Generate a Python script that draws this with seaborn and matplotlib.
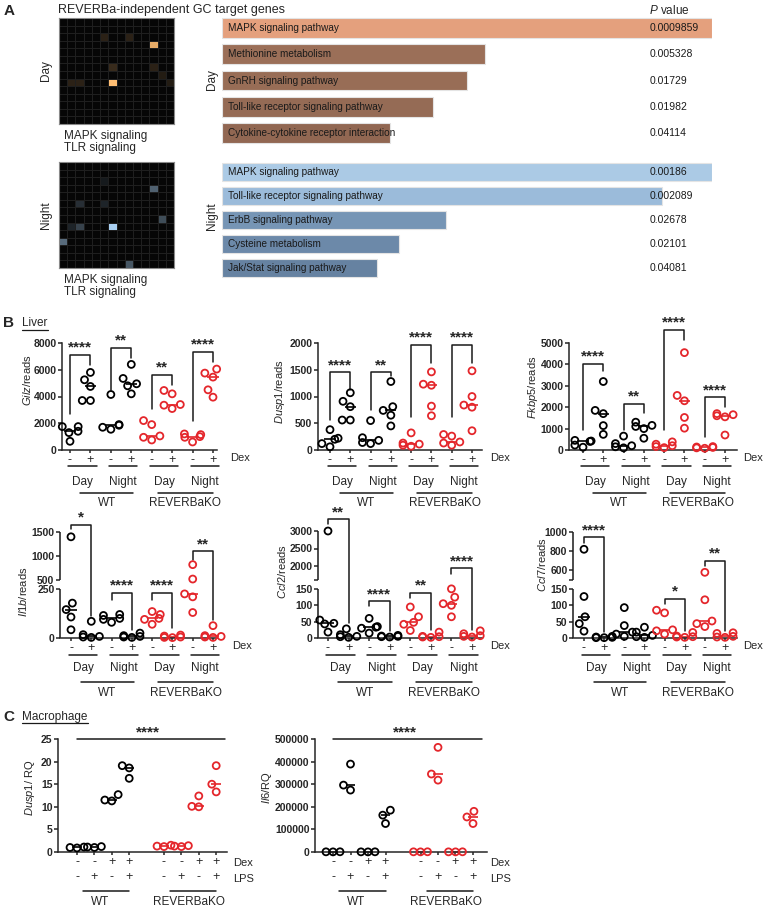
import numpy as np
import pandas as pd
import seaborn as sns
import matplotlib.pyplot as plt
import matplotlib.transforms as mtransforms
from matplotlib.colors import LinearSegmentedColormap
from matplotlib.lines import Line2D

sns.set_theme(style='ticks')
plt.rcParams['font.family'] = ['Liberation Sans', 'DejaVu Sans']
plt.rcParams['mathtext.fontset'] = 'custom'
plt.rcParams['mathtext.rm'] = 'Liberation Sans'
plt.rcParams['mathtext.it'] = 'Liberation Sans:italic'
plt.rcParams['mathtext.bf'] = 'Liberation Sans:bold'

# ---------------- data: panel A ----------------
day_terms = ['MAPK signaling pathway', 'Methionine metabolism', 'GnRH signaling pathway',
             'Toll-like receptor signaling pathway', 'Cytokine-cytokine receptor interaction']
day_score = [100, 53.7, 50.0, 43.1, 34.3]
day_p = ['0.0009859', '0.005328', '0.01729', '0.01982', '0.04114']
night_terms = ['MAPK signaling pathway', 'Toll-like receptor signaling pathway', 'ErbB signaling pathway',
               'Cysteine metabolism', 'Jak/Stat signaling pathway']
night_score = [100, 89.8, 45.7, 36.1, 31.6]
night_p = ['0.00186', '0.002089', '0.02678', '0.02101', '0.04081']
day_colors = ['#F59B6C', '#A66B4D', '#A3694B', '#A0674A', '#9C6447']
night_colors = ['#A2CBEE', '#90BBE5', '#6C95BF', '#6289B3', '#5C82AB']

# heatmap cells: row, col, intensity (14 x 14 grid)
day_rows = [2, 2, 3, 6, 6, 7, 8, 8, 8, 8]
day_cols = [5, 8, 11, 6, 11, 12, 13, 1, 2, 6]
day_vals = [0.15, 0.15, 0.9, 0.2, 0.15, 0.12, 0.12, 0.15, 0.15, 1.0]
night_rows = [2, 3, 5, 5, 7, 8, 8, 8, 10, 13]
night_cols = [5, 11, 2, 5, 12, 1, 2, 6, 0, 8]
night_vals = [0.1, 0.45, 0.2, 0.15, 0.35, 0.15, 0.3, 1.0, 0.5, 0.4]

# ---------------- data: panel B (liver reads) ----------------
B_GROUPS = ['WT Day -', 'WT Day +', 'WT Night -', 'WT Night +',
            'KO Day -', 'KO Day +', 'KO Night -', 'KO Night +']
B_GENO = ['WT'] * 4 + ['KO'] * 4
gilz = [[1750, 1750, 1400, 1300, 650], [5800, 5250, 4750, 3700, 3700],
        [4150, 1900, 1850, 1700, 1550], [6400, 5350, 4950, 4800, 4200],
        [2200, 1900, 1050, 950, 750], [4450, 4200, 3400, 3350, 3100],
        [1200, 1150, 1000, 950, 600], [6050, 5750, 5450, 4500, 3950]]
dusp1 = [[380, 220, 200, 120, 60], [1070, 910, 810, 560, 560],
         [550, 230, 180, 140, 120], [1280, 810, 740, 650, 450],
         [320, 130, 110, 90, 70], [1460, 1230, 1210, 820, 640],
         [290, 260, 150, 130, 90], [1480, 1000, 840, 800, 360]]
fkbp5 = [[450, 420, 400, 230, 130], [3200, 1850, 1700, 1140, 730],
         [650, 300, 200, 150, 100], [1300, 1150, 1100, 1000, 550],
         [380, 270, 200, 160, 110], [4550, 2550, 2300, 1520, 1020],
         [160, 140, 120, 100, 80], [1700, 1650, 1600, 1550, 700]]
il1b = [[1400, 178, 145, 107, 42], [85, 17, 8, 5, 3],
        [120, 115, 100, 95, 80], [25, 12, 8, 5, 3],
        [135, 120, 100, 95, 70], [15, 10, 5, 3, 2],
        [820, 520, 225, 210, 130], [63, 12, 8, 5, 3]]
ccl2 = [[3000, 55, 45, 43, 18], [28, 10, 5, 4, 2],
        [60, 35, 33, 30, 15], [8, 6, 5, 4, 3],
        [95, 65, 48, 42, 23], [18, 5, 4, 3, 2],
        [175, 125, 105, 100, 65], [22, 13, 7, 5, 3]]
ccl7 = [[820, 127, 65, 44, 21], [5, 3, 2, 1, 1],
        [93, 38, 18, 12, 5], [33, 18, 8, 4, 2],
        [85, 77, 25, 22, 12], [17, 6, 4, 3, 2],
        [580, 117, 52, 44, 35], [16, 14, 5, 3, 2]]

# brackets: (group i, group j, top, left foot, right foot, stars)
gilz_sig = [(0, 1, 7140, 2700, 6350, '****'), (2, 3, 7640, 4500, 6900, '**'),
            (4, 5, 5620, 3080, 4880, '**'), (6, 7, 7340, 2170, 6600, '****')]
dusp1_sig = [(0, 1, 1450, 560, 1125, '****'), (2, 3, 1450, 750, 1390, '**'),
             (4, 5, 1970, 625, 1625, '****'), (6, 7, 1970, 625, 1625, '****')]
fkbp5_sig = [(0, 1, 4030, 940, 3670, '****'), (2, 3, 2160, 940, 1720, '**'),
             (4, 5, 5625, 940, 5160, '****'), (6, 7, 2470, 625, 2030, '****')]
il1b_sig = [(0, 1, 1650, 1570, 110, '*'), (2, 3, 230, 196, 42, '****'),
            (4, 5, 230, 196, 51, '****'), (6, 7, 1100, 910, 94, '**')]
ccl2_sig = [(0, 1, 3340, 3200, 46, '**'), (2, 3, 112, 99, 20, '****'),
            (4, 5, 138, 122, 23, '**'), (6, 7, 1940, 1760, 23, '****')]
ccl7_sig = [(0, 1, 947, 890, 18, '****'), (4, 5, 120, 104, 21, '*'),
            (6, 7, 700, 650, 21, '**')]

# ---------------- data: panel C (macrophage RQ) ----------------
C_GROUPS = ['WT --', 'WT -+', 'WT +-', 'WT ++', 'KO --', 'KO -+', 'KO +-', 'KO ++']
C_ORDER = C_GROUPS[:4] + ['spacer'] + C_GROUPS[4:]
C_GENO = ['WT'] * 4 + ['KO'] * 4
C_DEX = ['-', '-', '+', '+'] * 2
C_LPS = ['-', '+', '-', '+'] * 2
dusp1_rq = [[1.0, 0.9, 1.1], [1.1, 1.0, 1.2], [12.7, 11.5, 11.3], [19.1, 18.6, 16.3],
            [1.5, 1.3, 1.2], [1.4, 1.3, 1.2], [12.4, 10.0, 10.1], [19.1, 15.0, 13.3]]
il6_rq = [[1000, 800, 600], [389000, 296000, 274000], [900, 700, 500], [185000, 163000, 126000],
          [1000, 800, 600], [463000, 345000, 318000], [900, 700, 600], [180000, 155000, 126000]]

PAL = {'WT': 'black', 'KO': '#E4262B'}
LW = 1.1

# ---------------- figure ----------------
W, H = 767, 911
fig = plt.figure(figsize=(W / 100, H / 100), dpi=100)
PX = mtransforms.Affine2D().scale(1, -1).translate(0, H)   # top-left pixel coords


def add_ax(l, t, r, b):
    return fig.add_axes([l / W, 1 - b / H, (r - l) / W, (b - t) / H])


def ftext(x, y, s, **kw):
    kw.setdefault('va', 'center')
    fig.text(x, y, s, transform=PX, **kw)


def fline(x0, x1, y):
    fig.add_artist(Line2D([x0, x1], [y, y], transform=PX, color='k', lw=0.9))


def long_df(groups, geno, values):
    rows = [(g, gt, v) for g, gt, vals in zip(groups, geno, values) for v in vals]
    return pd.DataFrame(rows, columns=['group', 'geno', 'value'])


def place_ylabel(ax, text, x_px, y_px, size=8):
    ax.set_ylabel(text, fontsize=size)
    ax.yaxis.label.set_va('center')
    pos = ax.get_position()
    ax.yaxis.set_label_coords((x_px / W - pos.x0) / pos.width,
                              ((1 - y_px / H) - pos.y0) / pos.height)


def dots(ax, groups, order, geno, values):
    df = long_df(groups, geno, values)
    n0 = len(ax.collections)
    sns.swarmplot(data=df, x='group', y='value', hue='geno', order=order, palette=PAL,
                  size=5.0, linewidth=1.3, legend=False, warn_thresh=1, ax=ax)
    for coll in ax.collections[n0:]:
        coll.set_edgecolors(coll.get_facecolors())
        coll.set_facecolors('none')
        coll.set_clip_on(False)
        coll.set_zorder(3)
    sns.boxplot(data=df, x='group', y='value', hue='geno', order=order, palette=PAL,
                fill=False, width=0.55, showbox=False, showcaps=False, showfliers=False,
                whis=0, whiskerprops={'visible': False}, linewidth=1.2, legend=False, ax=ax)
    for ln in ax.lines:
        ln.set_clip_on(False)


def make_break(lo, hi0, hi1, seg_lo=49.0, gap=9.0, seg_hi=48.0):
    vk = np.array([0.0, lo, hi0, hi1])
    uk = np.array([0.0, seg_lo, seg_lo + gap, seg_lo + gap + seg_hi])
    s_lo, s_hi = seg_lo / lo, seg_hi / (hi1 - hi0)

    def fwd(v):
        v = np.asarray(v, dtype=float)
        u = np.interp(v, vk, uk)
        u = np.where(v > hi1, uk[-1] + (v - hi1) * s_hi, u)
        return np.where(v < 0, v * s_lo, u)

    def inv(u):
        u = np.asarray(u, dtype=float)
        v = np.interp(u, uk, vk)
        v = np.where(u > uk[-1], hi1 + (u - uk[-1]) / s_hi, v)
        return np.where(u < 0, u / s_lo, v)
    return fwd, inv


def style(ax, xlim, ylim, yticks, ylabels=None, xticks=None, xlabels=None, xsize=9):
    ax.set_ylim(*ylim)
    ax.set_yticks(yticks)
    ax.set_yticklabels(ylabels if ylabels is not None else [str(t) for t in yticks])
    for t in ax.get_yticklabels():
        t.set_fontweight('bold')
    ax.set_xticks(xticks)
    ax.set_xticklabels(xlabels)
    ax.set_xlim(*xlim)
    ax.set_xlabel('')
    sns.despine(ax=ax)
    for s in ('left', 'bottom'):
        ax.spines[s].set_linewidth(LW)
    ax.tick_params(axis='y', length=3, width=LW, pad=1, labelsize=7.5)
    ax.tick_params(axis='x', length=2.5, width=LW, pad=0.5, labelsize=xsize)


def brackets(ax, sig):
    for i, j, top, lf, rf, lab in sig:
        ax.plot([i, i, j, j], [lf, top, top, rf], color='k', lw=LW, clip_on=False)
        ax.text((i + j) / 2, top, lab, ha='center', va='bottom', fontsize=11,
                fontweight='bold', clip_on=False)


def group_rows(ax, y1, yl1, y2, yl2, dex_x, dex_y):
    tr = mtransforms.blended_transform_factory(ax.transData, PX)
    for k, name in enumerate(['Day', 'Night', 'Day', 'Night']):
        ax.add_line(Line2D([2 * k - 0.1, 2 * k + 1.3], [y1, y1], transform=tr,
                           color='k', lw=LW, clip_on=False))
        ax.text(2 * k + 0.6, yl1, name, transform=tr, ha='center', va='center', fontsize=8.5)
    for a, b, name in [(0.5, 3.1, 'WT'), (4.3, 7.0, 'REVERBaKO')]:
        ax.add_line(Line2D([a, b], [y2, y2], transform=tr, color='k', lw=LW, clip_on=False))
        ax.text((a + b) / 2, yl2, name, transform=tr, ha='center', va='center', fontsize=8.5)
    ftext(dex_x, dex_y, 'Dex', fontsize=8)


# ---------------- panel A ----------------
ftext(4, 11, 'A', fontsize=11, fontweight='bold')
ftext(58, 10, 'REVERBa-independent GC target genes', fontsize=9)
ftext(649, 10, r'$\it{P}$ value', fontsize=8.5)

for rows, cols, vals, top, bot, cmap_hi, lab in [
        (day_rows, day_cols, day_vals, 18, 124, '#FFBE73', 'Day'),
        (night_rows, night_cols, night_vals, 162, 268, '#A9D0F2', 'Night')]:
    mat = np.zeros((14, 14))
    mat[rows, cols] = vals
    ax = add_ax(59, top, 174, bot)
    cmap = LinearSegmentedColormap.from_list(lab, ['#060606', cmap_hi])
    sns.heatmap(mat, cmap=cmap, vmin=0, vmax=1, cbar=False, linewidths=0.5,
                linecolor='#1f1f1f', xticklabels=False, yticklabels=False, ax=ax)
    for sp in ax.spines.values():
        sp.set_visible(True)
        sp.set_color('#8a8a8a')
        sp.set_linewidth(0.8)
    ftext(46, (top + bot) / 2, lab, fontsize=8.5, rotation=90, ha='center')
    ftext(64, bot + 12, 'MAPK signaling', fontsize=8.5)
    ftext(64, bot + 24, 'TLR signaling', fontsize=8.5)

for terms, score, pv, cols, top, bot, lab, lab_y in [
        (day_terms, day_score, day_p, day_colors, 15, 146, 'Day', 80),
        (night_terms, night_score, night_p, night_colors, 160, 280, 'Night', 216)]:
    ax = add_ax(222, top, 712, bot)
    sns.barplot(x=score, y=terms, hue=terms, palette=cols, legend=False, orient='h',
                width=0.76, edgecolor='#e4e4e4', linewidth=0.8, ax=ax)
    ax.set_xlim(0, 100)
    for i, (t, p) in enumerate(zip(terms, pv)):
        ax.text(1.2, i, t, va='center', ha='left', fontsize=7.2, color='#1a1a1a')
        ax.text(87.2, i, p, va='center', ha='left', fontsize=7.5, color='#1a1a1a')
    ax.axis('off')
    ftext(212, lab_y, lab, fontsize=8.5, rotation=90, ha='center')

# ---------------- panel B ----------------
ftext(3, 323, 'B', fontsize=11, fontweight='bold')
ftext(22, 323, 'Liver', fontsize=8.5)
fline(22, 48, 330)

row1 = [
    (gilz, gilz_sig, (62, 343, 217, 450), (70, 213), [0, 2000, 4000, 6000, 8000], r'$\it{Gilz}$/reads', (27, 380), 230),
    (dusp1, dusp1_sig, (318, 343, 482, 450), (330, 472), [0, 500, 1000, 1500, 2000], r'$\it{Dusp1}$/reads', (280, 392), 490),
    (fkbp5, fkbp5_sig, (569, 343, 737, 450), (583, 725), [0, 1000, 2000, 3000, 4000, 5000], r'$\it{Fkbp5}$/reads', (533, 387), 743),
]
for vals, sig, (l, t, r, b), (p0, p7), yt, ylab, (lx, ly), dx in row1:
    ax = add_ax(l, t, r, b)
    dots(ax, B_GROUPS, B_GROUPS, B_GENO, vals)
    sp = (p7 - p0) / 7
    style(ax, ((l - p0) / sp, (r - p0) / sp), (0, yt[-1]), yt,
          xticks=range(8), xlabels=['-', '+'] * 4)
    brackets(ax, sig)
    place_ylabel(ax, ylab, lx, ly)
    group_rows(ax, 466, 482, 493, 503, dx, 458)

row2 = [
    (il1b, il1b_sig, (60, 532, 217, 638), (71, 213), (250, 500, 1500, 48),
     [0, 250, 500, 1000, 1500], None, r'$\it{Il1b}$/reads', (23, 592), 232),
    (ccl2, ccl2_sig, (318, 531, 482, 638), (328, 472), (150, 1600, 3000, 49),
     [0, 50, 100, 150, 1600, 2000, 2500, 3000], ['0', '50', '100', '150', '', '2000', '2500', '3000'],
     r'$\it{Ccl2}$/reads', (282, 572), 490),
    (ccl7, ccl7_sig, (573, 532, 737, 638), (584, 725), (150, 500, 1000, 48),
     [0, 50, 100, 150, 500, 600, 800, 1000], ['0', '50', '100', '150', '', '600', '800', '1000'],
     r'$\it{Ccl7}$/reads', (542, 565), 743),
]
for vals, sig, (l, t, r, b), (p0, p7), (lo, hi0, hi1, seg_hi), yt, ytl, ylab, (lx, ly), dx in row2:
    ax = add_ax(l, t, r, b)
    dots(ax, B_GROUPS, B_GROUPS, B_GENO, vals)
    ax.set_yscale('function', functions=make_break(lo, hi0, hi1, seg_hi=seg_hi))
    sp = (p7 - p0) / 7
    style(ax, ((l - p0) / sp, (r - p0) / sp), (0, hi1), yt, ytl,
          xticks=range(8), xlabels=['-', '+'] * 4)
    ax.spines['left'].set_visible(False)
    ytr = ax.get_yaxis_transform()
    for a, c in [(0, lo), (hi0, hi1)]:
        ax.plot([0, 0], [a, c], transform=ytr, color='k', lw=LW, clip_on=False,
                solid_capstyle='butt')
    brackets(ax, sig)
    place_ylabel(ax, ylab, lx, ly)
    group_rows(ax, 655, 668, 682, 693, dx, 646)

# ---------------- panel C ----------------
ftext(3, 717, 'C', fontsize=11, fontweight='bold')
ftext(22, 717, 'Macrophage', fontsize=8.5)
fline(22, 88, 723)

c_panels = [
    (dusp1_rq, (58, 739, 227, 852), (77, 17.4), [0, 5, 10, 15, 20, 25], r'$\it{Dusp1}$/ RQ', (30, 788), 233),
    (il6_rq, (315, 739, 487, 852), (333, 17.5), [0, 100000, 200000, 300000, 400000, 500000], r'$\it{Il6}$/RQ', (267, 788), 490),
]
c_xticks = [0, 1, 2, 3, 5, 6, 7, 8]
for vals, (l, t, r, b), (p0, sp), yt, ylab, (lx, ly), dx in c_panels:
    ax = add_ax(l, t, r, b)
    dots(ax, C_GROUPS, C_ORDER, C_GENO, vals)
    style(ax, ((l - p0) / sp, (r - p0) / sp), (0, yt[-1]), yt,
          xticks=c_xticks, xlabels=[f'{d}\n{p}' for d, p in zip(C_DEX, C_LPS)], xsize=9)
    for tl in ax.get_xticklabels():
        tl.set_linespacing(1.3)
    ax.plot([0, 8.5], [yt[-1], yt[-1]], color='k', lw=LW, clip_on=False)
    ax.text(4.1, yt[-1], '****', ha='center', va='bottom', fontsize=11, fontweight='bold')
    place_ylabel(ax, ylab, lx, ly)
    tr = mtransforms.blended_transform_factory(ax.transData, PX)
    for a, c, name, cx in [(0.35, 3.0, 'WT', 1.3), (5.35, 8.0, 'REVERBaKO', 6.45)]:
        ax.add_line(Line2D([a, c], [891, 891], transform=tr, color='k', lw=LW, clip_on=False))
        ax.text(cx, 902, name, transform=tr, ha='center', va='center', fontsize=8.5)
    ftext(dx, 863, 'Dex', fontsize=8)
    ftext(dx, 879, 'LPS', fontsize=8)

fig.savefig('out.png', dpi=100)
